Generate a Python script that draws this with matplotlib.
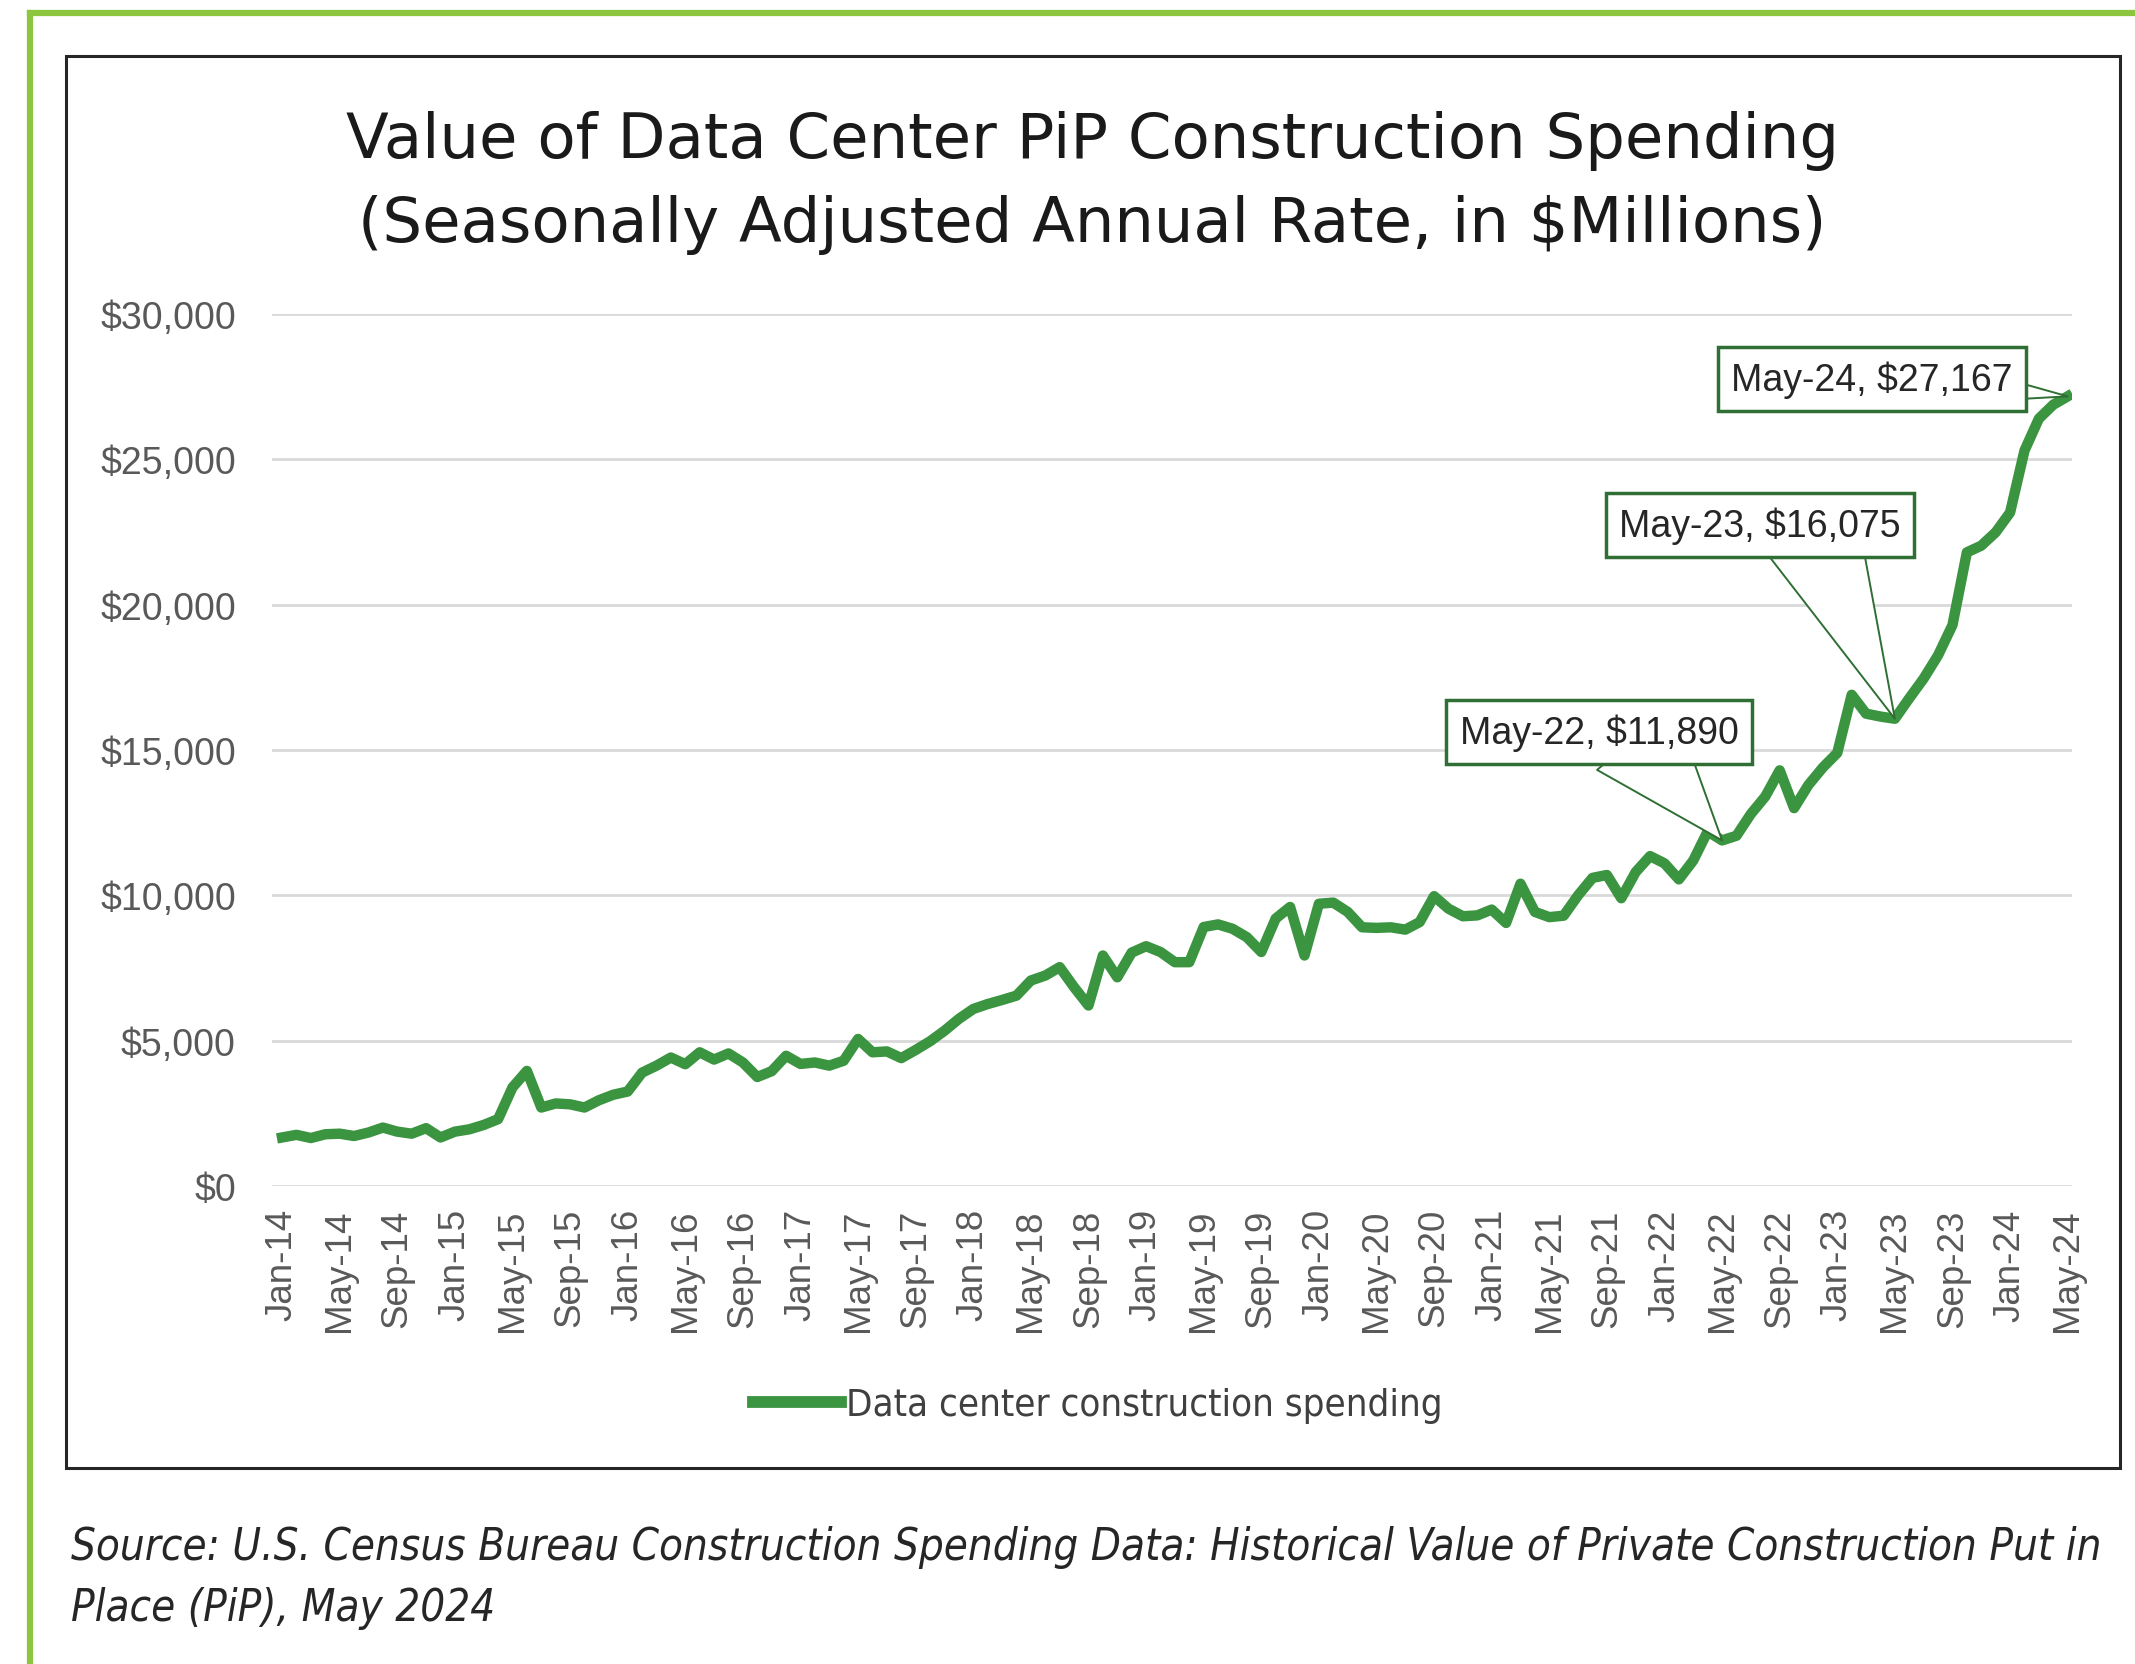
import matplotlib
matplotlib.use("Agg")
import matplotlib.pyplot as plt
from matplotlib.lines import Line2D
from matplotlib.patches import Rectangle
import pandas as pd

W, H = 2135, 1665

# monthly, Jan-14 .. May-24 (SAAR, $ millions)
months = list(pd.date_range("2014-01-01", "2024-05-01", freq="MS").strftime("%b-%y"))
spending = [
    1670, 1760, 1650, 1780, 1800, 1720, 1840, 2010, 1870, 1800, 1990, 1670,
    1870, 1950, 2100, 2300, 3390, 3960, 2700, 2840, 2810, 2700, 2950, 3140,
    3250, 3900, 4140, 4420, 4190, 4600, 4350, 4560, 4250, 3750, 3950, 4480,
    4200, 4250, 4140, 4310, 5060, 4600, 4630, 4400, 4680, 4980, 5340, 5750,
    6090, 6260, 6400, 6550, 7070, 7240, 7530, 6840, 6210, 7930, 7180, 8030,
    8250, 8050, 7700, 7700, 8910, 9000, 8850, 8560, 8050, 9200, 9600, 7930,
    9710, 9750, 9430, 8900, 8880, 8900, 8820, 9080, 9970, 9540, 9280, 9310,
    9510, 9050, 10400, 9430, 9250, 9300, 10000, 10600, 10700, 9900, 10800, 11350,
    11100, 10550, 11200, 12200, 11890, 12050, 12800, 13400, 14300, 13000, 13800, 14400,
    14900, 16900, 16250, 16150, 16075, 16780, 17460, 18260, 19300, 21800, 22030, 22490,
    23170, 25300, 26400, 26880, 27167,
]
callout_months = ["May-22", "May-23", "May-24"]
y_ticks = [0, 5000, 10000, 15000, 20000, 25000, 30000]

title = ("Value of Data Center PiP Construction Spending\n"
         "(Seasonally Adjusted Annual Rate, in $Millions)")
source = ["Source: U.S. Census Bureau Construction Spending Data: Historical Value of Private Construction Put in",
          "Place (PiP), May 2024"]

LINE_GREEN = "#3a9440"
BOX_GREEN = "#2f6f33"
GRAY = "#595959"


def fx(px):
    return px / W


def fy(py):
    return 1 - py / H


fig = plt.figure(figsize=(W / 100, H / 100), dpi=100)

# outer green frame (top + left) and inner chart frame
fig.add_artist(Line2D([fx(30), fx(30)], [fy(14), 0], color="#8cc63f", lw=4.5))
fig.add_artist(Line2D([fx(30), 1], [fy(14), fy(14)], color="#8cc63f", lw=4.5))
fig.add_artist(Rectangle((fx(66), fy(1469)), fx(2120) - fx(66), fy(57) - fy(1469),
                         transform=fig.transFigure, fill=False, ec="#262626", lw=2.2))

ax = fig.add_axes([fx(272), fy(1187), fx(2072) - fx(272), fy(315) - fy(1187)])
x = list(range(len(months)))
ax.plot(x, spending, color=LINE_GREEN, lw=7.5, solid_joinstyle="round",
        label="Data center construction spending", zorder=3)

ax.set_xlim(-0.7, len(months) - 0.7)
ax.set_ylim(0, 30000)
ax.set_yticks(y_ticks)
ax.set_yticklabels([f"${v:,}" for v in y_ticks])
ax.set_xticks(x[::4])
ax.set_xticklabels(months[::4], rotation=90, va="top", ha="center")
ax.tick_params(axis="y", length=0, pad=26, labelsize=27, labelcolor=GRAY)
ax.tick_params(axis="x", length=0, pad=16, labelsize=26.5, labelcolor=GRAY)
for lab in ax.get_xticklabels() + ax.get_yticklabels():
    lab.set_family("Liberation Sans")
ax.grid(axis="y", color="#d9d9d9", lw=2)
ax.set_axisbelow(True)
for s in ax.spines.values():
    s.set_visible(False)

# callouts: (text centre px, wedge width, where the wedge starts inside the box)
callout_style = {
    "May-22": ((1599, 733), 3.6, (0.63, 0.35)),
    "May-23": ((1760, 526), 3.6, (0.68, 0.35)),
    "May-24": ((1872, 380), 1.0, (0.9, 0.28)),
}
for m in callout_months:
    i = months.index(m)
    (tx, ty), tw, rp = callout_style[m]
    ax.annotate(f"{m}, ${spending[i]:,}", xy=(i, spending[i]), xycoords="data",
                xytext=(tx, H - ty), textcoords="figure pixels",
                ha="center", va="center", fontsize=27, family="Liberation Sans",
                color="#262626", zorder=5,
                bbox=dict(boxstyle="square,pad=0.35", fc="white", ec=BOX_GREEN, lw=2.5),
                arrowprops=dict(arrowstyle=f"wedge,tail_width={tw}", fc="white",
                                ec=BOX_GREEN, lw=1.4, shrinkA=0, shrinkB=0,
                                patchA=None, mutation_scale=20, relpos=rp))

fig.text(fx(1092), fy(183), title, ha="center", va="center", fontsize=45,
         family="DejaVu Sans", color="#1a1a1a", linespacing=1.49)

leg = ax.legend(loc="center", bbox_to_anchor=(fx(1098), fy(1406)),
                bbox_transform=fig.transFigure, frameon=False,
                handlelength=2.3, handletextpad=0.15,
                prop=dict(family="DejaVu Sans", stretch="condensed", size=27.5))
for t in leg.get_texts():
    t.set_color("#404040")
for hl in leg.get_lines():
    hl.set_linewidth(8.5)

for k, line in enumerate(source):
    fig.text(fx(71), fy(1548 + 61 * k), line, ha="left", va="center", fontsize=31.4,
             family="DejaVu Sans", stretch="condensed", style="italic", color="#262626")

fig.savefig("out.png", dpi=100, facecolor="white")
